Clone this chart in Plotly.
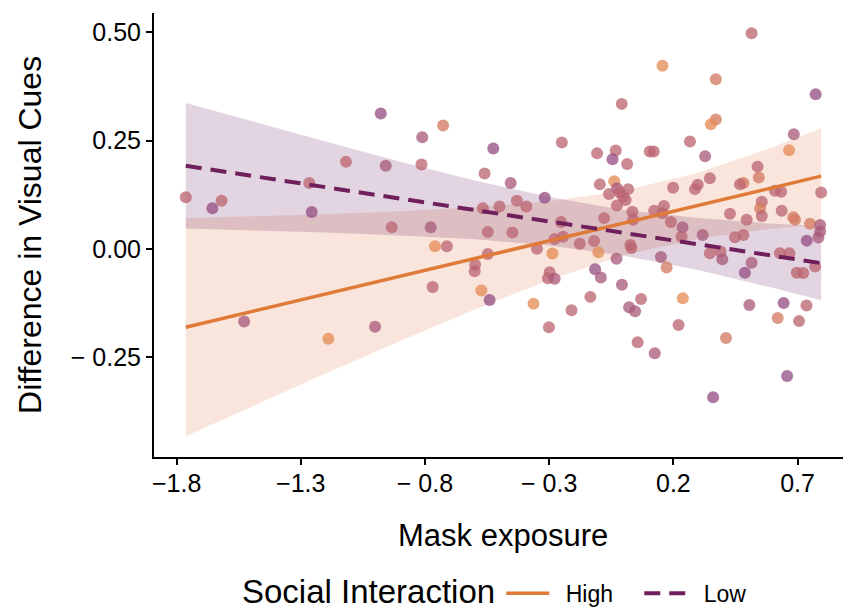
import plotly.graph_objects as go

# ---------------- data ----------------
point_x = [
    -1.763, -1.656, -1.619, -1.266, -1.256, -1.118, -0.978, -0.958, -0.934, -0.811,
    -0.814, -0.777, -0.727, -0.760, -0.712, -0.525, -0.560, -0.567, -0.547, -0.500,
    -0.547, -0.598, -0.600, -0.769, -0.573, -0.540, -1.528, -1.001, -1.189, -0.455,
    -0.249, -0.107, -0.096, -0.318, -0.430, -0.392, -0.448, -0.252, -0.079, -0.278,
    -0.244, -0.177, -0.119, -0.102, -0.349, -0.287, -0.298, -0.305, -0.278, -0.115,
    -0.092, -0.363, -0.301, -0.210, -0.134, -0.007, 0.022, 0.046, 0.070, 0.056,
    0.125, 0.221, 0.238, 0.412, 0.360, 0.506, 0.644, 0.620, 0.706, 0.736,
    0.658, -0.008, 0.773, 0.371, 0.351, 0.685, 0.267, 0.666, 0.121, 0.105,
    -0.032, -0.045, 0.014, 0.328, 0.539, 0.347, 0.544, -0.038, 0.482, 0.468,
    0.199, 0.298, 0.287, 0.018, -0.027, -0.016, -0.002, -0.059, 0.008, -0.027,
    0.609, 0.634, 0.795, 0.556, 0.549, 0.556, 0.428, 0.636, 0.123, 0.162,
    0.156, 0.035, 0.038, 0.190, 0.495, 0.683, 0.690, 0.750, 0.791, 0.791,
    0.784, 0.737, 0.237, 0.233, 0.318, 0.482, 0.448, 0.027, 0.031, 0.347,
    0.390, 0.397, 0.629, 0.667, 0.515, 0.488, 0.697, 0.723, 0.771, -0.029,
    0.150, 0.173, 0.515, 0.156, 0.371,
]
point_y = [
    0.119, 0.094, 0.111, 0.152, 0.085, 0.201, 0.313, 0.192, 0.050, 0.258,
    0.195, 0.050, 0.285, 0.006, 0.006, 0.232, 0.174, 0.094, 0.039, 0.098,
    -0.012, -0.037, -0.052, -0.088, -0.096, -0.118, -0.168, -0.180, -0.208, 0.152,
    0.246, 0.221, 0.149, 0.118, 0.111, 0.098, 0.038, 0.062, 0.071, 0.023,
    0.028, 0.012, 0.018, -0.008, 0.000, -0.011, -0.054, -0.068, -0.069, -0.047,
    -0.066, -0.127, -0.181, -0.142, -0.111, -0.083, -0.135, -0.144, -0.116, -0.216,
    -0.241, -0.176, -0.114, -0.206, -0.343, -0.130, -0.125, -0.160, -0.167, -0.131,
    -0.294, 0.335, 0.357, 0.299, 0.288, 0.265, 0.248, 0.228, 0.225, 0.225,
    0.227, 0.207, 0.196, 0.214, 0.190, 0.163, 0.165, 0.156, 0.152, 0.149,
    0.141, 0.148, 0.138, 0.138, 0.140, 0.130, 0.121, 0.127, 0.113, 0.100,
    0.134, 0.132, 0.130, 0.109, 0.094, 0.076, 0.081, 0.088, 0.088, 0.099,
    0.082, 0.086, 0.067, 0.062, 0.067, 0.073, 0.067, 0.058, 0.055, 0.040,
    0.026, 0.019, 0.050, 0.028, 0.032, 0.032, 0.027, 0.009, 0.002, -0.010,
    -0.006, -0.024, -0.010, -0.010, -0.032, -0.055, -0.055, -0.056, -0.041, -0.023,
    -0.019, -0.043, 0.498, 0.423, 0.392,
]
# tone of each point: o=orange, or=orange-rose, r=rose, rp=rose-purple, p=purple
point_tone = [
    "r", "p", "r", "r", "p", "r", "p", "rp", "r", "rp",
    "r", "rp", "or", "o", "r", "p", "r", "r", "r", "r",
    "r", "r", "r", "r", "o", "p", "rp", "rp", "o", "rp",
    "r", "r", "r", "p", "r", "r", "r", "r", "r", "r",
    "r", "r", "r", "o", "r", "o", "r", "r", "rp", "p",
    "rp", "o", "r", "r", "r", "rp", "rp", "rp", "r", "r",
    "rp", "r", "o", "or", "p", "rp", "p", "or", "r", "r",
    "p", "r", "p", "or", "o", "rp", "r", "o", "r", "r",
    "r", "p", "r", "rp", "r", "r", "or", "o", "or", "r",
    "r", "r", "r", "r", "rp", "r", "r", "r", "r", "r",
    "r", "r", "r", "r", "or", "r", "r", "r", "r", "r",
    "r", "r", "r", "r", "r", "or", "or", "or", "rp", "rp",
    "rp", "p", "rp", "r", "rp", "r", "r", "r", "r", "r",
    "r", "rp", "r", "r", "rp", "p", "r", "r", "r", "rp",
    "rp", "or", "r", "o", "or",
]

# fitted lines (end points of each regression line)
fit_x = [-1.763, 0.795]
high_fit = [-0.181, 0.168]
low_fit = [0.192, -0.033]

# confidence bands read at several x positions
band_x = [-1.763, -1.5, -1.2, -0.9, -0.6, -0.3, 0.0, 0.3, 0.6, 0.795]
high_lower = [-0.433, -0.365, -0.288, -0.213, -0.140, -0.072, -0.015, 0.024, 0.047, 0.057]
high_upper = [0.071, 0.075, 0.080, 0.087, 0.096, 0.110, 0.134, 0.176, 0.235, 0.279]
low_lower = [0.047, 0.043, 0.038, 0.031, 0.022, 0.008, -0.016, -0.049, -0.090, -0.119]
low_upper = [0.337, 0.295, 0.248, 0.201, 0.158, 0.120, 0.090, 0.071, 0.058, 0.053]

x_ticks = [-1.8, -1.3, -0.8, -0.3, 0.2, 0.7]
x_tick_labels = ["\u22121.8", "\u22121.3", "\u2212 0.8", "\u2212 0.3", "0.2", "0.7"]
y_ticks = [0.50, 0.25, 0.00, -0.25]
y_tick_labels = ["0.50", "0.25", "0.00", "\u2212 0.25"]

series_names = ["High", "Low"]
legend_title = "Social Interaction"

# ---------------- styles ----------------
FONT = "Liberation Sans, Arial, Helvetica, sans-serif"
tone_colors = {
    "o": "rgba(228,142,88,0.78)",
    "or": "rgba(212,124,100,0.78)",
    "r": "rgba(186,100,112,0.76)",
    "rp": "rgba(168,90,122,0.76)",
    "p": "rgba(148,78,132,0.76)",
}
HIGH_COLOR = "#E07A38"
LOW_COLOR = "#6E1F5C"

fig = go.Figure()

# ribbons
fig.add_trace(go.Scatter(
    x=band_x + band_x[::-1], y=high_upper + high_lower[::-1],
    fill="toself", fillcolor="rgba(232,145,105,0.24)", line=dict(width=0),
    mode="lines", showlegend=False, hoverinfo="skip"))
fig.add_trace(go.Scatter(
    x=band_x + band_x[::-1], y=low_upper + low_lower[::-1],
    fill="toself", fillcolor="rgba(110,40,100,0.20)", line=dict(width=0),
    mode="lines", showlegend=False, hoverinfo="skip"))

# points
fig.add_trace(go.Scatter(
    x=point_x, y=point_y, mode="markers",
    marker=dict(size=12, color=[tone_colors[t] for t in point_tone], line=dict(width=0)),
    showlegend=False))

# fitted lines
fig.add_trace(go.Scatter(
    x=fit_x, y=high_fit, mode="lines", name="\u2002" + series_names[0],
    line=dict(color=HIGH_COLOR, width=3.5)))
fig.add_trace(go.Scatter(
    x=fit_x, y=low_fit, mode="lines", name="\u2002" + series_names[1],
    line=dict(color=LOW_COLOR, width=4, dash="16px,9px")))

axis_common = dict(
    showgrid=False, zeroline=False, showline=True, linecolor="black", linewidth=2,
    ticks="outside", ticklen=6, tickwidth=2, tickcolor="black",
    tickfont=dict(family=FONT, size=25, color="black"),
)
fig.update_xaxes(range=[-1.891, 0.883], tickmode="array", tickvals=x_ticks,
                 ticktext=x_tick_labels, ticklabelstandoff=-3, **axis_common)
fig.update_yaxes(range=[-0.481, 0.545], tickmode="array", tickvals=y_ticks,
                 ticktext=y_tick_labels, **axis_common)

fig.update_layout(
    width=843, height=611,
    margin=dict(l=154, r=0, t=13, b=153.5, autoexpand=False),
    paper_bgcolor="white", plot_bgcolor="white",
    font=dict(family=FONT, color="black"),
    legend=dict(
        orientation="h", x=0.504, xanchor="left", y=-0.3071, yanchor="middle",
        itemwidth=43, entrywidth=80, entrywidthmode="pixels",
        font=dict(family=FONT, size=23, color="black"),
        bgcolor="rgba(0,0,0,0)",
    ),
    annotations=[
        dict(text="Mask exposure", x=0.5065, y=-0.1766, xref="paper", yref="paper",
             xanchor="center", yanchor="middle", showarrow=False,
             font=dict(family=FONT, size=31, color="black")),
        dict(text="Difference in Visual Cues", x=-0.18, y=0.5, xref="paper", yref="paper",
             xanchor="center", yanchor="middle", textangle=-90, showarrow=False,
             font=dict(family=FONT, size=32, color="black")),
        dict(text=legend_title, x=0.312, y=-0.3026, xref="paper", yref="paper",
             xanchor="center", yanchor="middle", showarrow=False,
             font=dict(family=FONT, size=33, color="black")),
    ],
)

fig.write_html("out.html")
